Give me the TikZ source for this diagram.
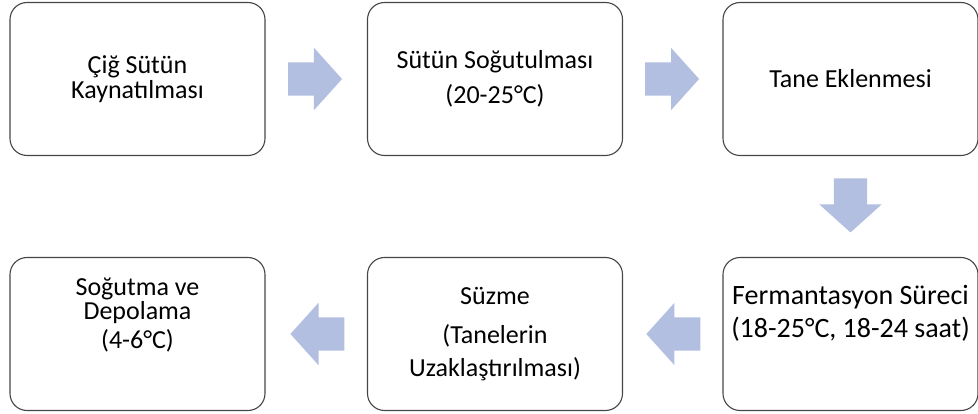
\documentclass[tikz,border=0pt]{standalone}
\usepackage{fontspec}
\setmainfont{Carlito}
\usetikzlibrary{shapes.arrows}
\definecolor{boxline}{RGB}{70,70,70}
\definecolor{arrowfill}{RGB}{178,191,224}
\tikzset{
  stepbox/.style={draw=boxline, line width=1.1pt, rounded corners=17pt,
    minimum width=255pt, minimum height=153pt, align=center, inner sep=0pt,
    font=\fontsize{26}{24.5}\selectfont},
  blockarrow/.style={single arrow, fill=arrowfill, draw=none,
    inner xsep=0pt, inner ysep=16.5pt, minimum height=54pt,
    single arrow head extend=14.5pt, single arrow tip angle=96,
    pos=0.22, anchor=tail}
}
\begin{document}
\begin{tikzpicture}[x=1pt,y=-1pt]
\useasboundingbox (0,0) rectangle (978,414);
% Upper Row
\node[stepbox] (kaynatma) at (137.5,79) {Çiğ Sütün\\Kaynatılması};
\node[stepbox] (sogutma) at (495,79) {Sütün Soğutulması\\[11pt](20-25°C)};
\node[stepbox] (tane) at (850.5,79) {Tane Eklenmesi};
% Lower Row
\node[stepbox, font=\fontsize{28}{33}\selectfont] (ferment) at (850.5,334)
  {Fermantasyon Süreci\\(18-25°C, 18-24 saat)\rule[-46pt]{0pt}{0pt}};
\node[stepbox] (suzme) at (495,334) {Süzme\\[15pt](Tanelerin\\[8pt]Uzaklaştırılması)};
\node[stepbox] (depo) at (137.5,334) {Soğutma ve\\Depolama\\[4pt](4-6°C)\rule[-42pt]{0pt}{0pt}};
%
% Process Arrows:
\path (kaynatma) -- (sogutma) node[blockarrow] (ok1) {};
\path (sogutma) -- (tane) node[blockarrow] (ok2) {};
\path (tane) -- (ferment) node[blockarrow, rotate=-90] (ok3) {};
\path (ferment) -- (suzme) node[blockarrow, rotate=180] (ok4) {};
\path (suzme) -- (depo) node[blockarrow, rotate=180] (ok5) {};
\end{tikzpicture}
\end{document}
